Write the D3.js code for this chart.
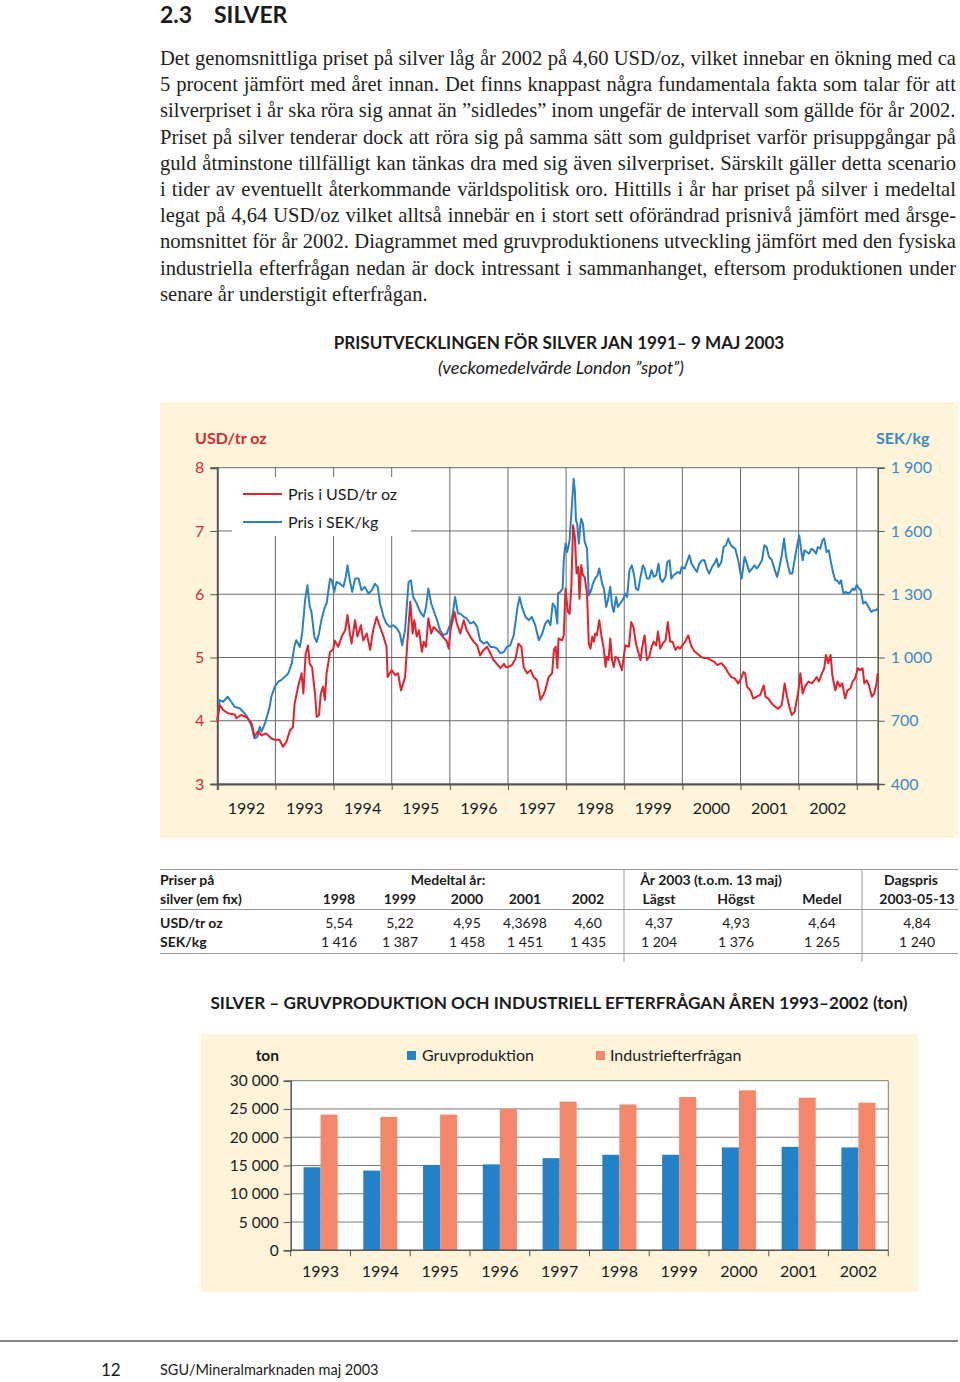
<!DOCTYPE html>
<html><head><meta charset="utf-8">
<script src="https://cdn.jsdelivr.net/npm/d3@7"></script>
<style>body{margin:0;background:#fff} svg{display:block}</style>
</head><body><svg id="c" width="960" height="1382"></svg>
<script>
// ---------------- DATA ----------------
const sectionNo = "2.3";
const sectionTitle = "SILVER";
const bodyLines = [
 "Det genomsnittliga priset på silver låg år 2002 på 4,60 USD/oz, vilket innebar en ökning med ca",
 "5 procent jämfört med året innan. Det finns knappast några fundamentala fakta som talar för att",
 "silverpriset i år ska röra sig annat än ”sidledes” inom ungefär de intervall som gällde för år 2002.",
 "Priset på silver tenderar dock att röra sig på samma sätt som guldpriset varför prisuppgångar på",
 "guld åtminstone tillfälligt kan tänkas dra med sig även silverpriset. Särskilt gäller detta scenario",
 "i tider av eventuellt återkommande världspolitisk oro. Hittills i år har priset på silver i medeltal",
 "legat på 4,64 USD/oz vilket alltså innebär en i stort sett oförändrad prisnivå jämfört med årsge-",
 "nomsnittet för år 2002. Diagrammet med gruvproduktionens utveckling jämfört med den fysiska",
 "industriella efterfrågan nedan är dock intressant i sammanhanget, eftersom produktionen under",
 "senare år understigit efterfrågan."
];
const lineTitle = "PRISUTVECKLINGEN FÖR SILVER JAN 1991– 9 MAJ 2003";
const lineSubtitle = "(veckomedelvärde London ”spot”)";
const usdAxisTitle = "USD/tr oz";
const sekAxisTitle = "SEK/kg";
const usdTicks = [3, 4, 5, 6, 7, 8];
const sekTicks = [400, 700, 1000, 1300, 1600, 1900];
const yearLabels = [1992, 1993, 1994, 1995, 1996, 1997, 1998, 1999, 2000, 2001, 2002];
const timeDomain = [1992.0, 2003.36];
const legendLine = ["Pris i USD/tr oz", "Pris i SEK/kg"];

// weekly-average series: [decimal year, value]
const usdSeries = [
[1992.00,3.98],[1992.04,4.25],[1992.10,4.17],[1992.18,4.12],[1992.30,4.10],[1992.33,4.04],[1992.41,4.09],[1992.50,4.06],[1992.59,3.96],[1992.64,3.75],[1992.70,3.83],[1992.76,3.77],[1992.84,3.80],[1992.93,3.72],[1992.99,3.70],[1993.07,3.70],[1993.13,3.59],[1993.19,3.67],[1993.25,3.85],[1993.30,3.90],[1993.33,4.27],[1993.39,4.54],[1993.45,4.75],[1993.48,4.43],[1993.52,5.06],[1993.56,5.19],[1993.59,4.90],[1993.63,4.85],[1993.68,4.43],[1993.71,4.06],[1993.75,4.09],[1993.78,4.43],[1993.82,4.54],[1993.85,4.33],[1993.88,4.75],[1993.94,5.09],[1993.99,5.12],[1994.02,5.27],[1994.08,5.17],[1994.14,5.33],[1994.20,5.43],[1994.24,5.67],[1994.28,5.38],[1994.31,5.22],[1994.37,5.59],[1994.41,5.33],[1994.47,5.51],[1994.51,5.27],[1994.57,5.38],[1994.63,5.12],[1994.68,5.43],[1994.74,5.64],[1994.80,5.48],[1994.86,5.33],[1994.91,5.17],[1994.93,4.69],[1995.00,4.80],[1995.06,4.72],[1995.11,4.75],[1995.16,4.48],[1995.23,4.69],[1995.28,5.38],[1995.32,5.88],[1995.36,5.38],[1995.39,5.59],[1995.43,5.33],[1995.47,5.43],[1995.52,5.09],[1995.55,5.25],[1995.59,5.17],[1995.63,5.62],[1995.68,5.38],[1995.72,5.48],[1995.78,5.43],[1995.86,5.35],[1995.95,5.25],[1995.98,5.14],[1996.01,5.43],[1996.08,5.72],[1996.12,5.54],[1996.18,5.38],[1996.24,5.59],[1996.29,5.43],[1996.35,5.33],[1996.41,5.25],[1996.47,5.19],[1996.52,5.03],[1996.58,5.12],[1996.64,5.17],[1996.70,5.06],[1996.75,4.96],[1996.81,4.90],[1996.87,4.83],[1996.93,4.90],[1996.96,4.85],[1997.00,4.85],[1997.07,4.88],[1997.13,4.98],[1997.18,5.22],[1997.23,5.17],[1997.27,4.85],[1997.33,4.75],[1997.39,4.80],[1997.44,4.69],[1997.50,4.64],[1997.56,4.33],[1997.61,4.41],
[1997.64,4.48],[1997.70,4.69],[1997.76,4.75],[1997.79,5.12],[1997.82,5.17],[1997.85,4.83],[1997.87,5.30],[1997.93,5.27],[1997.96,5.35],[1997.99,6.09],[1998.03,5.72],[1998.06,5.69],[1998.09,6.11],[1998.12,7.09],[1998.15,6.91],[1998.18,6.33],[1998.21,6.43],[1998.23,5.93],[1998.26,6.46],[1998.29,6.30],[1998.32,6.27],[1998.36,6.01],[1998.39,5.22],[1998.42,5.14],[1998.45,5.33],[1998.48,5.25],[1998.50,5.38],[1998.53,5.35],[1998.57,5.59],[1998.61,5.33],[1998.65,5.12],[1998.68,4.85],[1998.70,5.01],[1998.73,4.96],[1998.76,5.30],[1998.79,4.96],[1998.82,4.85],[1998.85,5.01],[1998.89,4.99],[1998.93,4.88],[1998.96,4.80],[1999.02,5.19],[1999.08,5.17],[1999.12,5.56],[1999.16,5.48],[1999.20,5.22],[1999.24,5.09],[1999.28,4.96],[1999.31,5.17],[1999.35,5.35],[1999.39,4.96],[1999.43,5.01],[1999.47,5.17],[1999.51,5.25],[1999.55,5.19],[1999.58,5.41],[1999.62,5.14],[1999.66,5.22],[1999.71,5.27],[1999.75,5.56],[1999.79,5.25],[1999.83,5.25],[1999.88,5.12],[1999.92,5.17],[1999.96,5.14],[2000.00,5.19],[2000.05,5.25],[2000.10,5.35],[2000.15,5.19],[2000.21,5.09],[2000.26,5.06],[2000.32,5.01],[2000.37,4.99],[2000.43,4.99],[2000.49,4.96],[2000.55,4.93],[2000.60,4.88],[2000.67,4.91],[2000.73,4.85],[2000.78,4.77],[2000.84,4.69],[2000.90,4.67],[2000.96,4.59],[2001.01,4.67],[2001.05,4.77],[2001.08,4.75],[2001.11,4.54],[2001.17,4.48],[2001.22,4.35],[2001.28,4.38],[2001.34,4.41],[2001.40,4.56],[2001.43,4.38],[2001.48,4.35],[2001.54,4.27],[2001.60,4.22],[2001.65,4.19],[2001.71,4.25],[2001.76,4.59],[2001.80,4.38],[2001.84,4.22],[2001.88,4.09],[2001.93,4.14],[2001.99,4.43],[2002.03,4.75],[2002.07,4.43],[2002.11,4.54],[2002.17,4.62],[2002.23,4.59],[2002.27,4.64],[2002.31,4.69],[2002.35,4.62],[2002.40,4.75],[2002.44,4.83],[2002.47,5.04],[2002.51,4.91],[2002.55,5.04],[2002.58,4.72],[2002.63,4.48],[2002.67,4.62],[2002.71,4.54],[2002.75,4.59],[2002.80,4.35],[2002.84,4.48],[2002.89,4.51],[2002.93,4.62],[2002.97,4.67],[2003.02,4.83],[2003.06,4.80],[2003.10,4.83],[2003.13,4.59],[2003.17,4.64],[2003.21,4.56],[2003.26,4.38],[2003.30,4.43],[2003.34,4.59],[2003.36,4.75]
];
const sekSeries = [
[1992.00,703],[1992.04,798],[1992.10,790],[1992.18,814],[1992.24,790],[1992.30,766],[1992.39,758],[1992.47,735],[1992.53,711],[1992.59,672],[1992.64,616],[1992.69,624],[1992.73,672],[1992.76,648],[1992.82,687],[1992.87,735],[1992.90,766],[1992.93,814],[1992.99,861],[1993.05,885],[1993.10,893],[1993.16,908],[1993.22,924],[1993.28,971],[1993.33,1058],[1993.36,1082],[1993.42,1050],[1993.46,1114],[1993.51,1272],[1993.55,1343],[1993.59,1240],[1993.62,1216],[1993.67,1098],[1993.71,1074],[1993.75,1114],[1993.79,1177],[1993.85,1240],[1993.88,1256],[1993.94,1374],[1993.97,1366],[1994.01,1311],[1994.05,1358],[1994.11,1350],[1994.17,1335],[1994.21,1382],[1994.24,1437],[1994.28,1366],[1994.32,1311],[1994.37,1374],[1994.43,1374],[1994.48,1319],[1994.54,1335],[1994.60,1303],[1994.66,1319],[1994.71,1350],[1994.76,1335],[1994.80,1256],[1994.86,1193],[1994.91,1161],[1994.97,1145],[1995.03,1153],[1995.09,1137],[1995.14,1114],[1995.18,1058],[1995.23,1130],[1995.29,1358],[1995.33,1366],[1995.37,1287],[1995.43,1256],[1995.49,1216],[1995.55,1193],[1995.59,1240],[1995.63,1327],[1995.68,1256],[1995.72,1224],[1995.78,1177],[1995.83,1130],[1995.89,1106],[1995.95,1114],[1996.01,1161],[1996.05,1208],[1996.09,1287],[1996.14,1208],[1996.18,1208],[1996.24,1193],[1996.29,1185],[1996.35,1161],[1996.41,1169],[1996.47,1145],[1996.52,1082],[1996.58,1066],[1996.64,1074],[1996.70,1050],[1996.75,1050],[1996.81,1043],[1996.87,1019],[1996.93,1027],[1996.98,1050],[1997.04,1058],[1997.10,1106],[1997.16,1232],[1997.20,1287],[1997.24,1240],[1997.30,1193],[1997.36,1177],[1997.41,1193],[1997.47,1153],[1997.53,1082],[1997.59,1114],
[1997.64,1161],[1997.69,1177],[1997.73,1153],[1997.77,1256],[1997.81,1240],[1997.85,1161],[1997.86,1303],[1997.90,1311],[1997.94,1327],[1997.96,1461],[1997.99,1540],[1998.02,1500],[1998.06,1556],[1998.09,1682],[1998.13,1848],[1998.15,1793],[1998.17,1650],[1998.19,1635],[1998.22,1540],[1998.24,1619],[1998.26,1658],[1998.29,1635],[1998.32,1548],[1998.36,1516],[1998.39,1295],[1998.43,1319],[1998.46,1350],[1998.50,1374],[1998.54,1390],[1998.57,1422],[1998.62,1350],[1998.65,1327],[1998.69,1240],[1998.72,1272],[1998.76,1335],[1998.79,1248],[1998.82,1216],[1998.86,1287],[1998.89,1240],[1998.93,1256],[1998.97,1272],[1999.02,1303],[1999.05,1287],[1999.09,1414],[1999.13,1437],[1999.17,1390],[1999.20,1327],[1999.24,1319],[1999.28,1382],[1999.32,1437],[1999.35,1422],[1999.39,1374],[1999.43,1374],[1999.47,1414],[1999.51,1382],[1999.55,1390],[1999.59,1445],[1999.62,1374],[1999.66,1358],[1999.71,1382],[1999.74,1453],[1999.78,1461],[1999.81,1374],[1999.85,1390],[1999.89,1398],[1999.92,1406],[1999.96,1398],[1999.99,1429],[2000.04,1422],[2000.08,1453],[2000.12,1485],[2000.16,1445],[2000.21,1422],[2000.25,1406],[2000.29,1445],[2000.34,1461],[2000.38,1461],[2000.42,1422],[2000.46,1398],[2000.51,1429],[2000.55,1445],[2000.59,1469],[2000.62,1429],[2000.67,1453],[2000.71,1524],[2000.75,1532],[2000.79,1564],[2000.82,1540],[2000.86,1524],[2000.91,1516],[2000.96,1461],[2001.00,1398],[2001.02,1374],[2001.07,1477],[2001.11,1445],[2001.15,1406],[2001.20,1422],[2001.24,1437],[2001.28,1422],[2001.32,1437],[2001.37,1461],[2001.41,1532],[2001.45,1524],[2001.49,1477],[2001.54,1461],[2001.59,1414],[2001.63,1382],[2001.67,1429],[2001.71,1485],[2001.75,1564],[2001.78,1485],[2001.81,1445],[2001.85,1398],[2001.89,1398],[2001.93,1461],[2001.97,1524],[2002.01,1579],[2002.04,1516],[2002.07,1461],[2002.10,1508],[2002.14,1500],[2002.18,1492],[2002.22,1516],[2002.26,1508],[2002.30,1492],[2002.33,1524],[2002.37,1516],[2002.41,1556],[2002.44,1564],[2002.48,1500],[2002.52,1508],[2002.56,1445],[2002.59,1406],[2002.63,1366],[2002.66,1366],[2002.70,1350],[2002.73,1366],[2002.77,1303],[2002.81,1311],[2002.85,1303],[2002.89,1311],[2002.93,1327],[2002.96,1319],[2003.00,1343],[2003.04,1327],[2003.07,1319],[2003.11,1256],[2003.15,1264],[2003.20,1240],[2003.25,1216],[2003.29,1224],[2003.33,1224],[2003.36,1232]
];

// table
const tableHead1 = ["Priser på", "Medeltal år:", "År 2003 (t.o.m. 13 maj)", "Dagspris"];
const tableHead2 = ["silver (em fix)", "1998", "1999", "2000", "2001", "2002", "Lägst", "Högst", "Medel", "2003-05-13"];
const tableUsd = ["USD/tr oz", "5,54", "5,22", "4,95", "4,3698", "4,60", "4,37", "4,93", "4,64", "4,84"];
const tableSek = ["SEK/kg", "1 416", "1 387", "1 458", "1 451", "1 435", "1 204", "1 376", "1 265", "1 240"];

// bar chart
const barTitle = "SILVER – GRUVPRODUKTION OCH INDUSTRIELL EFTERFRÅGAN ÅREN 1993–2002 (ton)";
const barYears = ["1993","1994","1995","1996","1997","1998","1999","2000","2001","2002"];
const mineProduction = [14700, 14100, 15100, 15200, 16300, 16900, 16900, 18200, 18300, 18200];
const industrialDemand = [24000, 23600, 24000, 25000, 26300, 25800, 27100, 28300, 27000, 26100];
const barSeriesNames = ["Gruvproduktion", "Industriefterfrågan"];
const barTicks = [0, 5000, 10000, 15000, 20000, 25000, 30000];
const barUnit = "ton";

const pageNo = "12";
const footerText = "SGU/Mineralmarknaden maj 2003";

// ---------------- DRAW ----------------
const SANS = "Lato, 'Open Sans', sans-serif";
const SERIF = "'Liberation Serif', 'DejaVu Serif', serif";
const RED = "#E3222D", BLUE = "#2A80C2";
const CREAM = "#FDF4DA";
const svg = d3.select("#c");
const fmtSpace = v => d3.format(",")(v).replace(/,/g, " ");

function fitWidth(t, w){
  const cur = t.node().getComputedTextLength();
  const fs = parseFloat(t.attr("font-size"));
  t.attr("font-size", fs * w / cur);
}

// heading
svg.append("text").attr("x",160).attr("y",23).attr("font-family",SANS).attr("font-weight",700)
  .attr("font-size",23).attr("fill","#1b1b1b").text(sectionNo);
svg.append("text").attr("x",214).attr("y",23).attr("font-family",SANS).attr("font-weight",700)
  .attr("font-size",23).attr("fill","#1b1b1b").text(sectionTitle);

// body text, justified (word spacing); lines that are too long get a smaller size
const BODY_W = 796;
const body = svg.append("g").attr("font-family",SERIF).attr("fill","#231f20");
bodyLines.forEach((ln,i)=>{
  const t = body.append("text").attr("x",160).attr("y",65+i*26.2).attr("font-size",20.6).text(ln);
  const w = t.node().getComputedTextLength();
  if (w > BODY_W) {
    fitWidth(t, BODY_W);
  } else if (i < bodyLines.length-1) {
    const n = (ln.match(/ /g)||[]).length;
    t.style("word-spacing", ((BODY_W - w)/n) + "px");
  }
});

// ---- line chart ----
const t1 = svg.append("text").attr("x",559).attr("y",349).attr("text-anchor","middle")
  .attr("font-family",SANS).attr("font-weight",700).attr("font-size",16.5).attr("fill","#1b1b1b").text(lineTitle);
fitWidth(t1, 451);
const st = svg.append("text").attr("x",561).attr("y",374).attr("text-anchor","middle")
  .attr("font-family",SANS).attr("font-style","italic").attr("font-size",16).attr("fill","#1b1b1b").text(lineSubtitle);
fitWidth(st, 246);

svg.append("rect").attr("x",160).attr("y",402).attr("width",798).attr("height",436).attr("fill",CREAM);

const L = 217.3, R = 877.7, T = 467.7, B = 784;
const x = d3.scaleLinear().domain(timeDomain).range([L, R]);
const yU = d3.scaleLinear().domain([3, 8]).range([B, T]);
const yS = d3.scaleLinear().domain([400, 1900]).range([B, T]);

svg.append("rect").attr("x",L).attr("y",T).attr("width",R-L).attr("height",B-T).attr("fill","#fff");

const gridCol = "#6b6b6b";
const grid = svg.append("g");
grid.selectAll("line.h").data(usdTicks).join("line")
  .attr("x1",L).attr("x2",R).attr("y1",d=>yU(d)).attr("y2",d=>yU(d)).attr("stroke",gridCol).attr("stroke-width",1);
const yearLines = d3.range(Math.ceil(timeDomain[0])+1, Math.floor(timeDomain[1])+1);
grid.selectAll("line.v").data(yearLines).join("line")
  .attr("x1",d=>x(d)).attr("x2",d=>x(d)).attr("y1",T).attr("y2",B).attr("stroke",gridCol).attr("stroke-width",1);

// axes
const axL = svg.append("g").attr("transform",`translate(${L},0)`)
  .call(d3.axisLeft(yU).tickValues(usdTicks).tickSize(7).tickPadding(6).tickFormat(d3.format("d")));
axL.select(".domain").attr("stroke","#555").attr("stroke-width",2);
axL.selectAll(".tick line").attr("stroke","#555");
axL.selectAll("text").attr("font-family",SANS).attr("font-size",16).attr("fill","#D42A33").attr("x",-13);

const axR = svg.append("g").attr("transform",`translate(${R},0)`)
  .call(d3.axisRight(yS).tickValues(sekTicks).tickSize(7).tickPadding(6).tickFormat(fmtSpace));
axR.select(".domain").attr("stroke","#555").attr("stroke-width",1.5);
axR.selectAll(".tick line").attr("stroke","#555");
axR.selectAll("text").attr("font-family",SANS).attr("font-size",16).attr("fill","#3C8AC4").attr("x",13);

const axB = svg.append("g").attr("transform",`translate(0,${B})`)
  .call(d3.axisBottom(x).tickValues(d3.range(timeDomain[0], Math.floor(timeDomain[1])+1)).tickSize(6).tickFormat(""));
axB.select(".domain").attr("stroke","#555").attr("stroke-width",2);
axB.selectAll(".tick line").attr("stroke","#555");
svg.append("g").selectAll("text").data(yearLabels).join("text")
  .attr("x",d=>x(d+0.5)).attr("y",814).attr("text-anchor","middle")
  .attr("font-family",SANS).attr("font-size",16).attr("fill","#1b1b1b").text(d=>d);

svg.append("text").attr("x",195).attr("y",444).attr("font-family",SANS).attr("font-weight",700)
  .attr("font-size",16).attr("fill","#D42A33").text(usdAxisTitle);
svg.append("text").attr("x",876).attr("y",444).attr("font-family",SANS).attr("font-weight",700)
  .attr("font-size",16).attr("fill","#3C8AC4").text(sekAxisTitle);

// legend box
svg.append("rect").attr("x",232).attr("y",477).attr("width",179).attr("height",59).attr("fill","#fff");
const lg = svg.append("g");
[[RED,494],[BLUE,522]].forEach(([c,yy],i)=>{
  lg.append("line").attr("x1",243).attr("x2",282).attr("y1",yy).attr("y2",yy).attr("stroke",c).attr("stroke-width",2.2);
  lg.append("text").attr("x",288).attr("y",yy+5.5).attr("font-family",SANS).attr("font-size",16)
    .attr("fill","#1b1b1b").text(legendLine[i]);
});

// series
const lineU = d3.line().x(d=>x(d[0])).y(d=>yU(d[1]));
const lineS = d3.line().x(d=>x(d[0])).y(d=>yS(d[1]));
svg.append("path").attr("d",lineS(sekSeries)).attr("fill","none").attr("stroke",BLUE).attr("stroke-width",2).attr("stroke-linejoin","round");
svg.append("path").attr("d",lineU(usdSeries)).attr("fill","none").attr("stroke",RED).attr("stroke-width",2).attr("stroke-linejoin","round");

// ---- table ----
const tb = svg.append("g").attr("font-family",SANS).attr("font-size",14).attr("fill","#1b1b1b");
const ruleCol = "#9a9a9a";
[869.5, 909.5, 953.5].forEach(yy=> tb.append("line").attr("x1",160).attr("x2",958).attr("y1",yy).attr("y2",yy).attr("stroke",ruleCol).attr("stroke-width",1));
[624, 862].forEach(xx=> tb.append("line").attr("x1",xx).attr("x2",xx).attr("y1",869.5).attr("y2",962).attr("stroke",ruleCol).attr("stroke-width",1));
const colX = [160, 339, 400, 467, 525, 588, 659, 736, 822, 917];
tb.append("text").attr("x",160).attr("y",885).attr("font-weight",700).text(tableHead1[0]);
tb.append("text").attr("x",448).attr("y",885).attr("font-weight",700).attr("text-anchor","middle").text(tableHead1[1]);
tb.append("text").attr("x",711).attr("y",885).attr("font-weight",700).attr("text-anchor","middle").text(tableHead1[2]);
tb.append("text").attr("x",911).attr("y",885).attr("font-weight",700).attr("text-anchor","middle").text(tableHead1[3]);
[[tableHead2,904,700],[tableUsd,928,400],[tableSek,947,400]].forEach(([row,yy,fw])=>{
  row.forEach((v,i)=>{
    tb.append("text").attr("x",colX[i]).attr("y",yy)
      .attr("text-anchor", i===0 ? "start" : "middle")
      .attr("font-weight", i===0 ? 700 : fw).text(v);
  });
});

// ---- bar chart ----
const t2 = svg.append("text").attr("x",559).attr("y",1009).attr("text-anchor","middle")
  .attr("font-family",SANS).attr("font-weight",700).attr("font-size",17).attr("fill","#1b1b1b").text(barTitle);
fitWidth(t2, 698);
svg.append("rect").attr("x",201).attr("y",1034).attr("width",717).attr("height",258).attr("fill",CREAM);
const bL = 290.7, bR = 888.3, bT = 1080.7, bB = 1250.3;
svg.append("rect").attr("x",bL).attr("y",bT).attr("width",bR-bL).attr("height",bB-bT).attr("fill","#fff");
const xb = d3.scaleBand().domain(barYears).range([bL,bR]).paddingInner(0.43).paddingOuter(0.215);
const xs = d3.scaleBand().domain([0,1]).range([0, xb.bandwidth()]);
const yb = d3.scaleLinear().domain([0,30000]).range([bB,bT]);
svg.append("g").selectAll("line").data(barTicks.slice(1)).join("line")
  .attr("x1",bL).attr("x2",bR).attr("y1",d=>yb(d)).attr("y2",d=>yb(d)).attr("stroke","#7a7a7a").attr("stroke-width",1);
svg.append("line").attr("x1",bR).attr("x2",bR).attr("y1",bT).attr("y2",bB).attr("stroke","#7a7a7a");

const bars = svg.append("g");
[mineProduction, industrialDemand].forEach((arr,si)=>{
  bars.append("g").selectAll("rect").data(arr).join("rect")
    .attr("x",(d,i)=>xb(barYears[i]) + xs(si)).attr("width",xs.bandwidth())
    .attr("y",d=>yb(d)).attr("height",d=>bB-yb(d))
    .attr("fill", si===0 ? "#2381C8" : "#F4876A");
});
const byA = svg.append("g").attr("transform",`translate(${bL},0)`)
  .call(d3.axisLeft(yb).tickValues(barTicks).tickSize(7).tickPadding(5).tickFormat(fmtSpace));
byA.select(".domain").attr("stroke","#555").attr("stroke-width",1.5);
byA.selectAll(".tick line").attr("stroke","#555");
byA.selectAll("text").attr("font-family",SANS).attr("font-size",15.5).attr("fill","#1b1b1b");
const bxA = svg.append("g").attr("transform",`translate(0,${bB})`);
bxA.append("line").attr("x1",bL).attr("x2",bR).attr("stroke","#555").attr("stroke-width",1.5);
bxA.selectAll("line.t").data(d3.range(barYears.length+1)).join("line")
  .attr("x1",i=>bL + i*xb.step()).attr("x2",i=>bL + i*xb.step()).attr("y1",0).attr("y2",6).attr("stroke","#555");
bxA.selectAll("text").data(barYears).join("text")
  .attr("x",d=>xb(d)+xb.bandwidth()/2).attr("y",27).attr("text-anchor","middle")
  .attr("font-family",SANS).attr("font-size",16).attr("fill","#1b1b1b").text(d=>d);
svg.append("text").attr("x",279).attr("y",1061).attr("text-anchor","end").attr("font-family",SANS)
  .attr("font-weight",700).attr("font-size",15.5).attr("fill","#1b1b1b").text(barUnit);
[[407,"#2381C8",422],[596,"#F4876A",610]].forEach(([sx,c,tx],i)=>{
  svg.append("rect").attr("x",sx).attr("y",1051).attr("width",9).attr("height",9).attr("fill",c);
  svg.append("text").attr("x",tx).attr("y",1061).attr("font-family",SANS).attr("font-size",16)
    .attr("fill","#1b1b1b").text(barSeriesNames[i]);
});

// ---- footer ----
svg.append("line").attr("x1",0).attr("x2",958).attr("y1",1341).attr("y2",1341).attr("stroke","#858585").attr("stroke-width",2);
svg.append("text").attr("x",101).attr("y",1376).attr("font-family",SANS).attr("font-size",17).attr("fill","#1b1b1b").text(pageNo);
svg.append("text").attr("x",160).attr("y",1375).attr("font-family",SANS).attr("font-size",14.5).attr("fill","#1b1b1b").text(footerText);
</script></body></html>
